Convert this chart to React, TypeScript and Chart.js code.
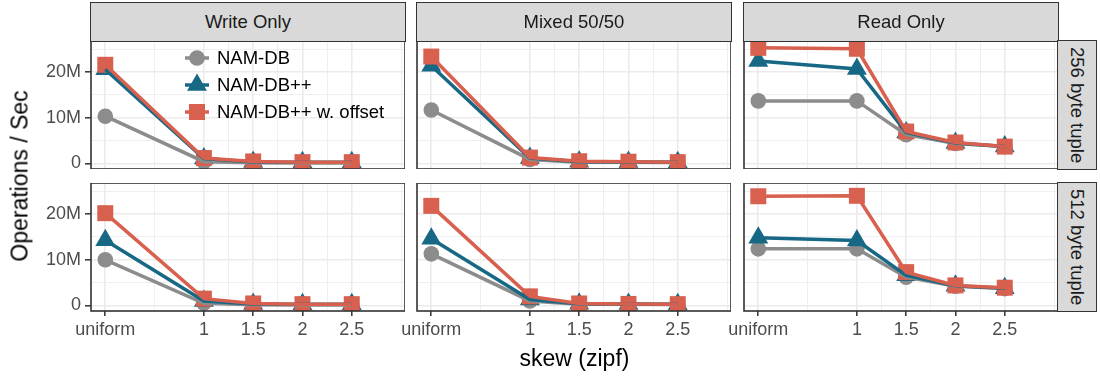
import React, { useEffect, useRef } from 'react';
import { Chart, registerables } from 'chart.js';

Chart.register(...registerables);

// ---------------- data ----------------
const skewLabels = ['uniform', '1', '1.5', '2', '2.5'];
const skewValues = [0, 1, 1.5, 2, 2.5];
const xMinorValues = [0.5, 1.25, 1.75, 2.25, 3];
const workloads = ['Write Only', 'Mixed 50/50', 'Read Only'];
const tupleSizes = ['256 byte tuple', '512 byte tuple'];
const seriesNames = ['NAM-DB', 'NAM-DB++', 'NAM-DB++ w. offset'];
const yMajorValues = [0, 10, 20]; // millions
const yMajorLabels = ['0', '10M', '20M'];
const yMinorValues = [5, 15, 25];

// operations / sec, in millions — 256 byte tuple
const namdb256Write = [10.35, 0.4, 0.15, 0.1, 0.1];
const namdbpp256Write = [20.6, 1.1, 0.35, 0.3, 0.3];
const namdbOff256Write = [21.6, 1.2, 0.45, 0.3, 0.3];
const namdb256Mixed = [11.7, 0.9, 0.3, 0.25, 0.2];
const namdbpp256Mixed = [21.4, 1.2, 0.4, 0.35, 0.3];
const namdbOff256Mixed = [23.4, 1.3, 0.5, 0.4, 0.3];
const namdb256Read = [13.7, 13.7, 6.3, 4.4, 3.7];
const namdbpp256Read = [22.4, 20.7, 6.8, 4.5, 3.7];
const namdbOff256Read = [25.3, 25.1, 7.0, 4.6, 3.7];

// operations / sec, in millions — 512 byte tuple
const namdb512Write = [10.0, 0.5, 0.15, 0.1, 0.1];
const namdbpp512Write = [14.3, 1.0, 0.35, 0.3, 0.3];
const namdbOff512Write = [20.2, 1.5, 0.45, 0.3, 0.3];
const namdb512Mixed = [11.3, 1.0, 0.3, 0.25, 0.2];
const namdbpp512Mixed = [14.6, 1.3, 0.4, 0.35, 0.3];
const namdbOff512Mixed = [21.8, 2.0, 0.45, 0.35, 0.3];
const namdb512Read = [12.4, 12.4, 6.2, 4.2, 3.7];
const namdbpp512Read = [14.8, 14.2, 6.6, 4.3, 3.8];
const namdbOff512Read = [23.9, 24.0, 7.3, 4.4, 3.9];

const panelSeries: number[][][][] = [
  [
    [namdb256Write, namdbpp256Write, namdbOff256Write],
    [namdb256Mixed, namdbpp256Mixed, namdbOff256Mixed],
    [namdb256Read, namdbpp256Read, namdbOff256Read],
  ],
  [
    [namdb512Write, namdbpp512Write, namdbOff512Write],
    [namdb512Mixed, namdbpp512Mixed, namdbOff512Mixed],
    [namdb512Read, namdbpp512Read, namdbOff512Read],
  ],
];

// ---------------- style ----------------
const FONT = '"Liberation Sans", Arial, Helvetica, sans-serif';
const COLORS = ['#8c8c8c', '#176884', '#d8604f'];
const POINT_STYLES = ['circle', 'triangle', 'rect'];
const POINT_RADII = [7.8, 11.5, 11.3];
const LINE_W = 3.5;
const GRID = '#ebebeb';
const DARK = '#333333';

const COLS = [
  { left: 91, right: 405 },
  { left: 417, right: 731 },
  { left: 744, right: 1058 },
];
const ROWS = [
  { top: 41, bottom: 169 },
  { top: 183, bottom: 311 },
];
const Y_AXIS_W = 91;
const SIDE_MARGIN = 22;
const X_AXIS_H = 40;

function drawMarker(ctx: CanvasRenderingContext2D, style: string, x: number, y: number, r: number, color: string) {
  ctx.save();
  ctx.fillStyle = color;
  ctx.beginPath();
  if (style === 'circle') {
    ctx.arc(x, y, r, 0, Math.PI * 2);
  } else if (style === 'triangle') {
    for (let k = 0; k < 3; k++) {
      const a = (k * 2 * Math.PI) / 3;
      const px = x + Math.sin(a) * r;
      const py = y - Math.cos(a) * r;
      if (k === 0) ctx.moveTo(px, py);
      else ctx.lineTo(px, py);
    }
    ctx.closePath();
  } else {
    const h = r * Math.SQRT1_2;
    ctx.rect(x - h, y - h, 2 * h, 2 * h);
  }
  ctx.fill();
  ctx.restore();
}

const framePlugin = {
  id: 'panelFrame',
  afterDraw(chart: any) {
    const { ctx, chartArea } = chart;
    ctx.save();
    ctx.strokeStyle = DARK;
    ctx.lineWidth = 1.6;
    ctx.strokeRect(chartArea.left, chartArea.top, chartArea.right - chartArea.left, chartArea.bottom - chartArea.top);
    ctx.restore();
  },
};

const legendPlugin = {
  id: 'insideLegend',
  afterDatasetsDraw(chart: any) {
    const { ctx, chartArea } = chart;
    const cx = chartArea.left + 106;
    const y0 = chartArea.top + 17;
    const step = 27;
    seriesNames.forEach((name, i) => {
      const y = y0 + i * step;
      ctx.save();
      ctx.strokeStyle = COLORS[i];
      ctx.lineWidth = LINE_W;
      ctx.beginPath();
      ctx.moveTo(cx - 12, y);
      ctx.lineTo(cx + 12, y);
      ctx.stroke();
      ctx.restore();
      drawMarker(ctx, POINT_STYLES[i], cx, y, POINT_RADII[i], COLORS[i]);
      ctx.save();
      ctx.fillStyle = '#000';
      ctx.font = `18.5px ${FONT}`;
      ctx.textBaseline = 'middle';
      ctx.textAlign = 'left';
      ctx.fillText(name, cx + 20, y + 1);
      ctx.restore();
    });
  },
};

function zeroPadding(s: any) {
  s.paddingTop = 0;
  s.paddingBottom = 0;
  s.paddingLeft = 0;
  s.paddingRight = 0;
}

function Panel({ row, col }: { row: number; col: number }) {
  const ref = useRef<HTMLCanvasElement | null>(null);
  const leftCol = col === 0;
  const bottomRow = row === 1;
  const yAxisW = leftCol ? Y_AXIS_W : SIDE_MARGIN;
  const cLeft = COLS[col].left - yAxisW;
  const cWidth = COLS[col].right - cLeft;
  const cTop = ROWS[row].top;
  const cHeight = ROWS[row].bottom - ROWS[row].top + (bottomRow ? X_AXIS_H : 0);

  useEffect(() => {
    if (!ref.current) return;
    const series = panelSeries[row][col];
    const datasets: any[] = [];
    series.forEach((vals, i) => {
      const data = skewValues.map((x, j) => ({ x, y: vals[j] }));
      datasets.push({
        label: seriesNames[i] + ' (line)',
        data,
        borderColor: COLORS[i],
        backgroundColor: COLORS[i],
        borderWidth: LINE_W,
        pointRadius: 0,
        pointHoverRadius: 0,
        tension: 0,
        fill: false,
        showLine: true,
        order: 2 - i,
        clip: 0,
      });
      datasets.push({
        label: seriesNames[i],
        data,
        showLine: false,
        pointStyle: POINT_STYLES[i],
        pointRadius: POINT_RADII[i],
        pointHoverRadius: POINT_RADII[i],
        pointBackgroundColor: COLORS[i],
        pointBorderColor: COLORS[i],
        pointBorderWidth: 0,
        order: 5 - i,
        clip: 0,
      });
    });

    const xTicks = [...skewValues, ...xMinorValues].sort((a, b) => a - b);
    const yTicks = [...yMajorValues, ...yMinorValues].sort((a, b) => a - b);
    const isMajorX = (v: number) => skewValues.indexOf(v) >= 0;
    const isMajorY = (v: number) => yMajorValues.indexOf(v) >= 0;

    const plugins: any[] = [framePlugin];
    if (row === 0 && col === 0) plugins.unshift(legendPlugin);

    const chart = new Chart(ref.current, {
      type: 'line',
      data: { datasets },
      plugins,
      options: {
        animation: false,
        responsive: false,
        maintainAspectRatio: false,
        events: [],
        layout: { padding: 0, autoPadding: false },
        plugins: { legend: { display: false }, tooltip: { enabled: false } },
        scales: {
          x: {
            type: 'linear',
            min: -0.145,
            max: 3.04,
            afterBuildTicks: (s: any) => {
              s.ticks = xTicks.map((v) => ({ value: v }));
            },
            afterFit: (s: any) => {
              s.height = bottomRow ? X_AXIS_H : 0;
              zeroPadding(s);
            },
            ticks: {
              display: bottomRow,
              autoSkip: false,
              maxRotation: 0,
              minRotation: 0,
              padding: 3,
              color: '#4d4d4d',
              font: { family: FONT, size: 18 },
              callback: (v: any) => {
                const i = skewValues.indexOf(Number(v));
                return i >= 0 ? skewLabels[i] : '';
              },
            },
            grid: {
              color: GRID,
              lineWidth: (c: any) => (c.tick && isMajorX(c.tick.value) ? 1.6 : 0.8),
              drawTicks: bottomRow,
              tickLength: 5,
              tickWidth: 1.5,
              tickColor: (c: any) => (c.tick && isMajorX(c.tick.value) ? DARK : 'rgba(0,0,0,0)'),
            },
            border: { display: false },
          },
          y: {
            type: 'linear',
            min: -1.2,
            max: 26.8,
            afterBuildTicks: (s: any) => {
              s.ticks = yTicks.map((v) => ({ value: v }));
            },
            afterFit: (s: any) => {
              s.width = yAxisW;
              zeroPadding(s);
            },
            ticks: {
              display: leftCol,
              autoSkip: false,
              padding: 4,
              color: '#4d4d4d',
              font: { family: FONT, size: 18 },
              callback: (v: any) => {
                const i = yMajorValues.indexOf(Number(v));
                return i >= 0 ? yMajorLabels[i] : '';
              },
            },
            grid: {
              color: GRID,
              lineWidth: (c: any) => (c.tick && isMajorY(c.tick.value) ? 1.6 : 0.8),
              drawTicks: leftCol,
              tickLength: 6,
              tickWidth: 1.5,
              tickColor: (c: any) => (c.tick && isMajorY(c.tick.value) ? DARK : 'rgba(0,0,0,0)'),
            },
            border: { display: false },
          },
        },
      } as any,
    });
    return () => chart.destroy();
  }, [row, col]);

  return (
    <canvas
      ref={ref}
      width={cWidth}
      height={cHeight}
      style={{ position: 'absolute', left: cLeft, top: cTop, width: cWidth, height: cHeight }}
    />
  );
}

const stripBase: React.CSSProperties = {
  position: 'absolute',
  boxSizing: 'border-box',
  background: '#d9d9d9',
  border: `1.6px solid ${DARK}`,
  color: '#1a1a1a',
  fontFamily: FONT,
  fontSize: 18.5,
  display: 'flex',
  alignItems: 'center',
  justifyContent: 'center',
  whiteSpace: 'nowrap',
};

export default function App() {
  const panels: JSX.Element[] = [];
  for (let r = 0; r < 2; r++) for (let c = 0; c < 3; c++) panels.push(<Panel key={`${r}-${c}`} row={r} col={c} />);
  return (
    <div style={{ position: 'fixed', left: 0, top: 0, width: 1100, height: 376, background: '#fff', overflow: 'hidden' }}>
      {panels}
      {workloads.map((w, c) => (
        <div
          key={w}
          style={{ ...stripBase, left: COLS[c].left - 0.8, top: 2, width: COLS[c].right - COLS[c].left + 1.6, height: ROWS[0].top - 2 + 0.8 }}
        >
          {w}
        </div>
      ))}
      {tupleSizes.map((t, r) => (
        <div
          key={t}
          style={{
            ...stripBase,
            left: COLS[2].right - 0.8,
            top: ROWS[r].top - 0.8,
            width: 40,
            height: ROWS[r].bottom - ROWS[r].top + 1.6,
            writingMode: 'vertical-rl',
          }}
        >
          {t}
        </div>
      ))}
      <div
        style={{
          position: 'absolute',
          left: 20,
          top: (ROWS[0].top + ROWS[1].bottom) / 2,
          transform: 'translate(-50%, -50%) rotate(-90deg)',
          fontFamily: FONT,
          fontSize: 23,
          color: '#000',
          whiteSpace: 'nowrap',
        }}
      >
        Operations / Sec
      </div>
      <div
        style={{
          position: 'absolute',
          left: (COLS[0].left + COLS[2].right) / 2,
          top: 358,
          transform: 'translate(-50%, -50%)',
          fontFamily: FONT,
          fontSize: 23,
          color: '#000',
          whiteSpace: 'nowrap',
        }}
      >
        skew (zipf)
      </div>
    </div>
  );
}
